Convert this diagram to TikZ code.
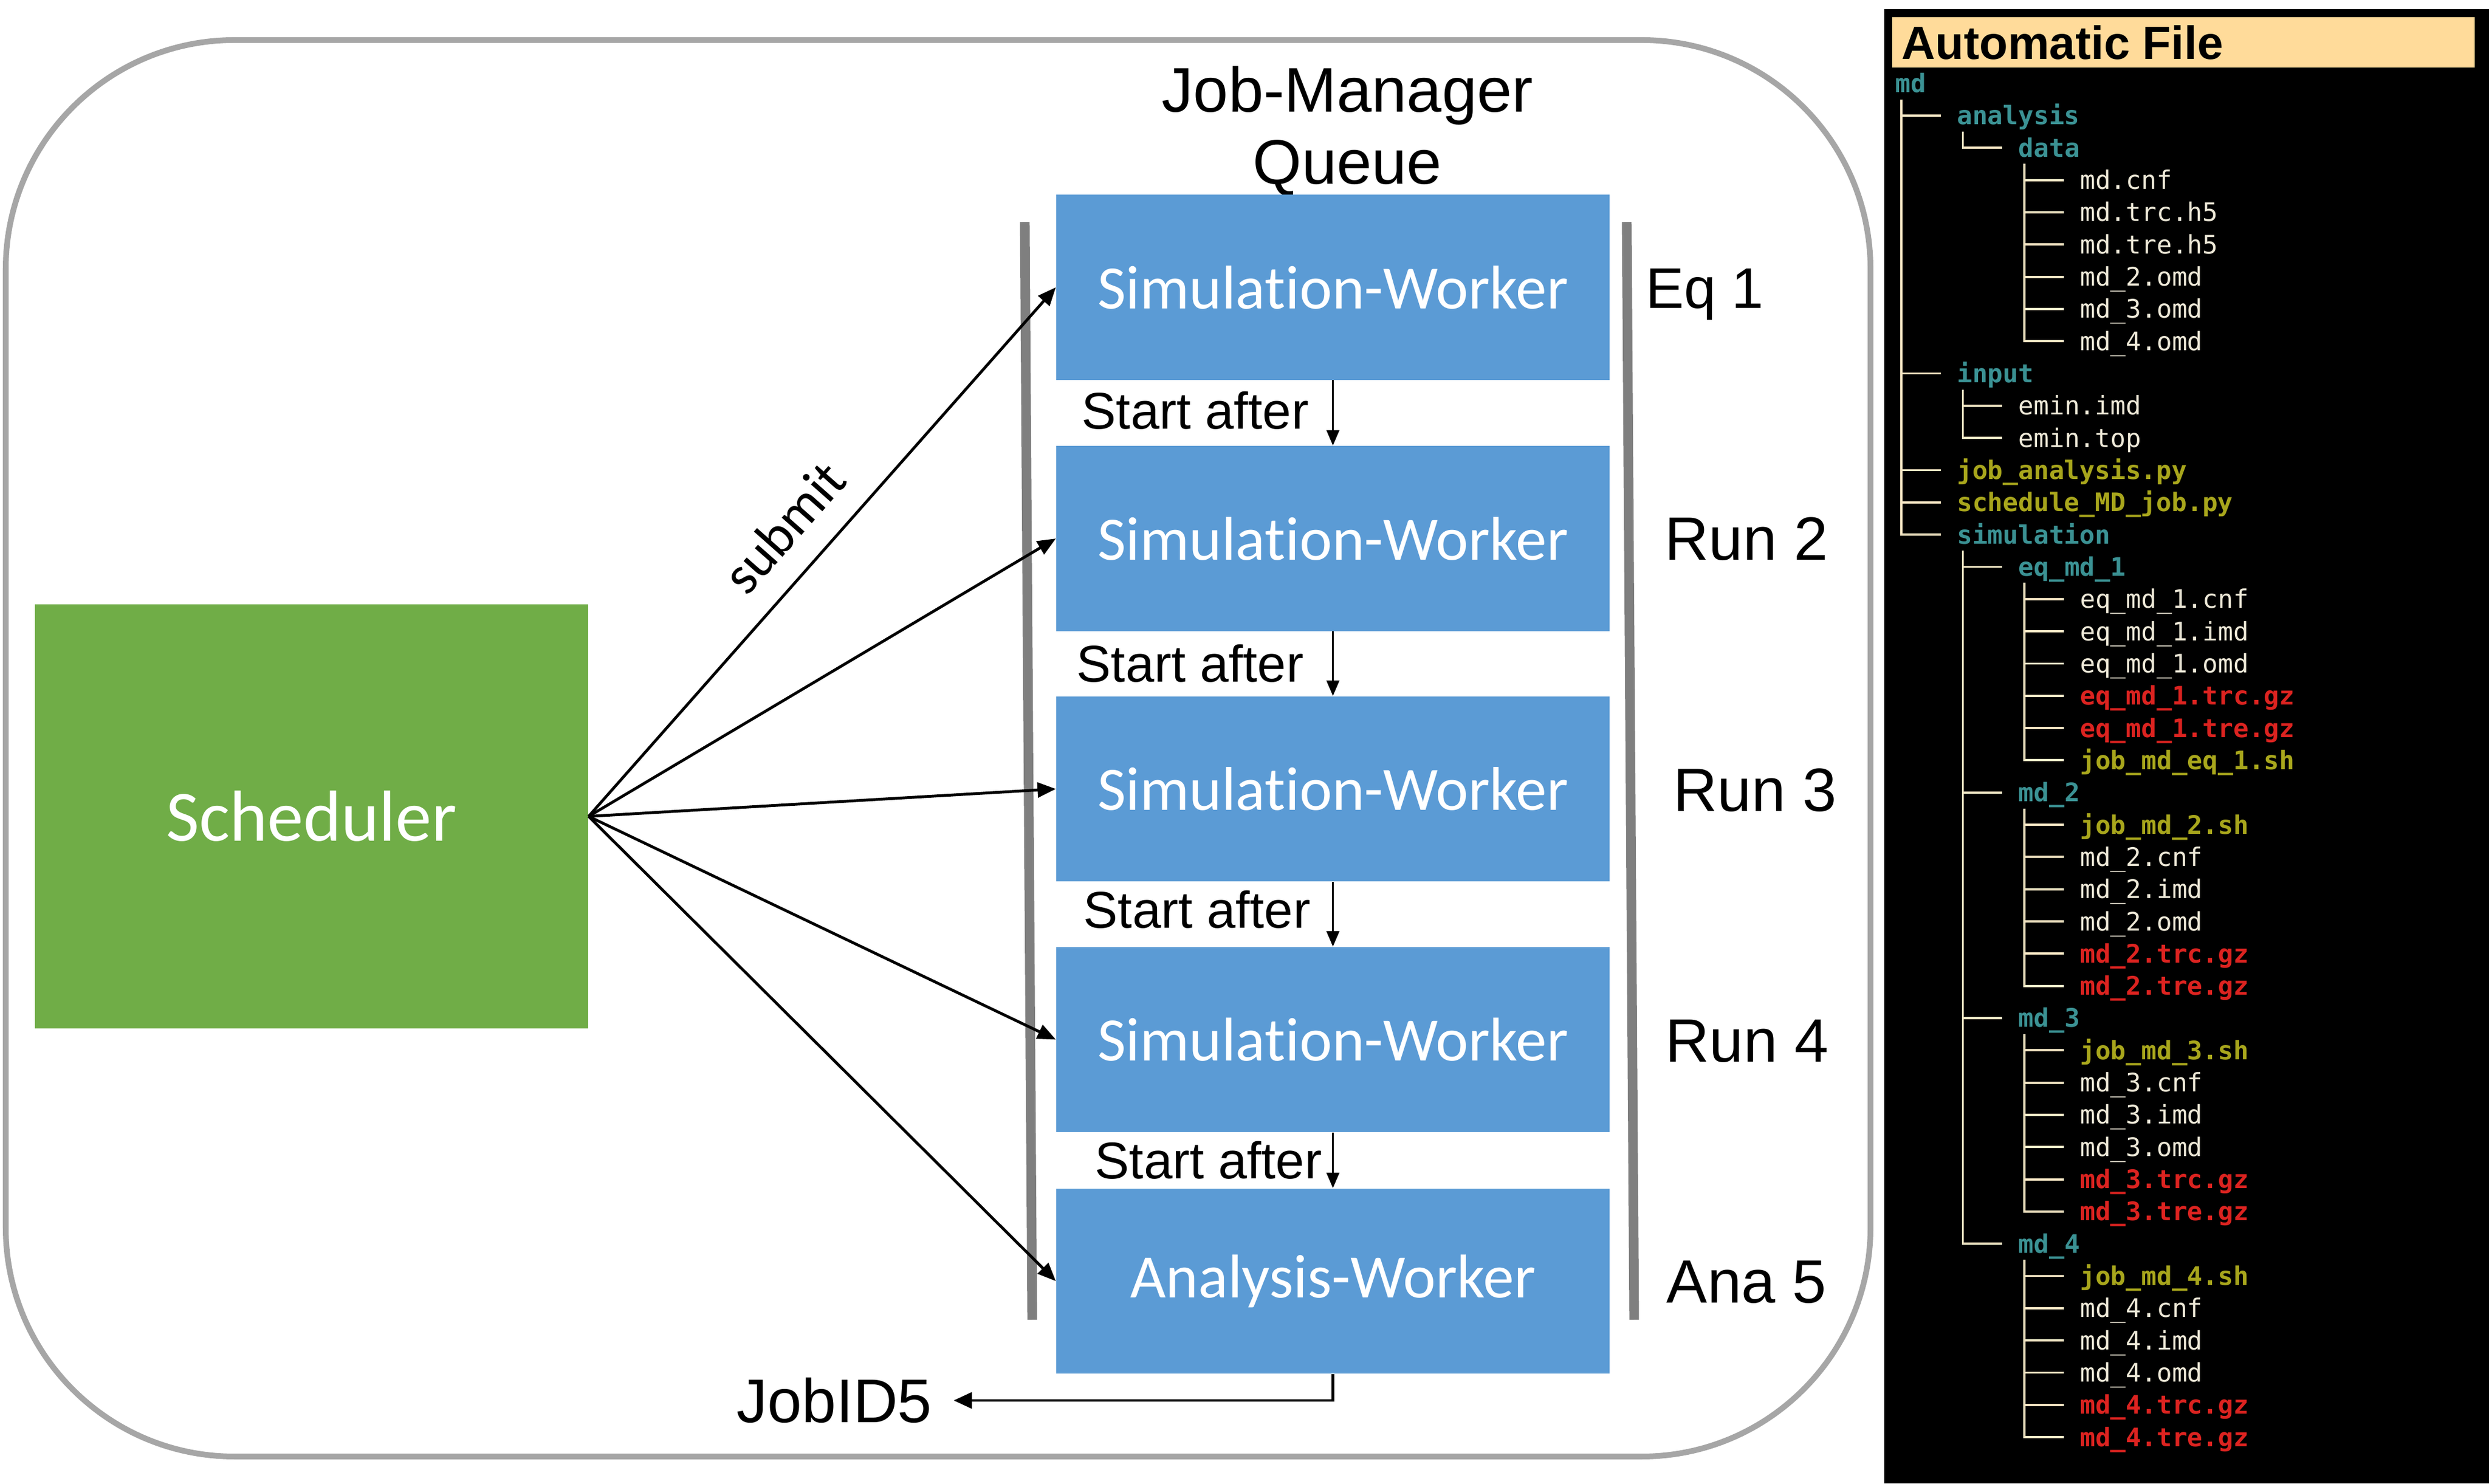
\documentclass[tikz,border=0pt]{standalone}
\usepackage{fontspec}
\setmainfont{Liberation Sans}
\newfontfamily\calibrifont[Ligatures=NoCommon]{Carlito}
\newfontfamily\treefont{DejaVu Sans Mono}
\usetikzlibrary{arrows.meta}

\definecolor{framegray}{HTML}{A6A6A6}
\definecolor{bargray}{HTML}{7F7F7F}
\definecolor{workerblue}{HTML}{5B9BD5}
\definecolor{schedgreen}{HTML}{70AD47}
\definecolor{headeryellow}{HTML}{FFDB9A}
\definecolor{treeline}{HTML}{F5E6C4}
\definecolor{tdir}{HTML}{3B9294}
\definecolor{texe}{HTML}{A8A61C}
\definecolor{tgz}{HTML}{DC2320}
\definecolor{tplain}{HTML}{EEE9D8}

\begin{document}
\begin{tikzpicture}[>={Triangle[length=0.32cm,width=0.26cm]},
    worker/.style={fill=workerblue, text=white, inner sep=0,
                   minimum width=9.67cm, minimum height=3.235cm,
                   font=\calibrifont\fontsize{30.7}{36}\selectfont},
    lbl/.style={inner sep=0, anchor=base west, font=\fontsize{30.4}{36}\selectfont},
    after/.style={inner sep=0, anchor=base west, font=\fontsize{25.7}{30}\selectfont},
    bar/.style={draw=bargray, line width=4.8pt},
    tree/.style={draw=treeline, line width=1.1pt},
    leaf/.style={inner sep=0, anchor=west, text height=0.42cm, text depth=0.10cm},
    fplain/.style={text=tplain, font=\treefont\fontsize{12.67}{15}\selectfont},
    fdir/.style={text=tdir, font=\treefont\bfseries\fontsize{12.67}{15}\selectfont},
    fexe/.style={text=texe, font=\treefont\bfseries\fontsize{12.67}{15}\selectfont},
    fgz/.style={text=tgz, font=\treefont\bfseries\fontsize{12.67}{15}\selectfont}]

  \useasboundingbox (0,0) rectangle (43.5,25.92);
  \fill[white] (0,0) rectangle (43.5,25.92);

  % queue frame
  \draw[framegray, line width=2.85pt, rounded corners=4cm] (0.10,0.47) rectangle (32.69,25.22);
  \draw[bar] (17.91,22.04) -- (18.04,2.86);
  \draw[bar] (28.43,22.04) -- (28.56,2.86);

  \node[align=center, font=\fontsize{31.3}{36}\selectfont] (title) at (23.55,23.63) {Job-Manager\\Queue};

  \node[fill=schedgreen, text=white, minimum width=9.67cm, minimum height=7.41cm,
        font=\calibrifont\fontsize{35.9}{42}\selectfont] (sched) at (5.445,11.655) {Scheduler};

  \node[worker] (w1) at (23.295,20.90) {Simulation-Worker};
  \node[worker] (w2) at (23.295,16.51) {Simulation-Worker};
  \node[worker] (w3) at (23.295,12.135) {Simulation-Worker};
  \node[worker] (w4) at (23.295,7.755) {Simulation-Worker};
  \node[worker] (w5) at (23.295,3.535) {Analysis-Worker};

  \node[lbl, font=\fontsize{28.5}{34}\selectfont] (l1) at (28.76,20.53) {Eq 1};
  \node[lbl] (l2) at (29.09,16.13) {Run 2};
  \node[lbl] (l3) at (29.24,11.74) {Run 3};
  \node[lbl] (l4) at (29.10,7.36) {Run 4};
  \node[lbl] (l5) at (29.12,3.15) {Ana 5};

  \node[after] (a1) at (18.90,18.42) {Start after};
  \node[after] (a2) at (18.81,14.00) {Start after};
  \node[after] (a3) at (18.93,9.70) {Start after};
  \node[after] (a4) at (19.13,5.32) {Start after};

  \node[inner xsep=0.37cm, inner ysep=0, font=\fontsize{30.7}{36}\selectfont] (jobid) at (14.58,1.45) {JobID5};

  % submit arrows
  \draw[->, line width=1.4pt] (sched.east) -- node[pos=0.49, above=0.31cm, sloped,
        font=\calibrifont\fontsize{27.3}{32}\selectfont] {submit} (w1.west);
  \foreach \w in {w2,w3,w4,w5}
    \draw[->, line width=1.4pt] (sched.east) -- (\w.west);

  \foreach \x/\y in {w1/w2, w2/w3, w3/w4, w4/w5}
    \draw[-{Triangle[length=0.27cm,width=0.22cm]}, line width=1.1pt] (\x.south) -- (\y.north);

  \draw[-{Triangle[length=0.32cm,width=0.28cm]}, line width=1.4pt] (w5.south) |- (jobid.east);

  % file tree
  \fill[black] (32.93,0) rectangle (43.5,25.76);
  \fill[headeryellow] (33.07,24.74) rectangle (43.25,25.62);
  \node[inner sep=0, anchor=base west, font=\bfseries\fontsize{23.2}{28}\selectfont] (head) at (33.23,24.88) {Automatic File};

  \foreach \i/\lev/\sty/\txt in {0/0/fdir/md, 1/1/fdir/analysis, 2/2/fdir/data,
      3/3/fplain/md.cnf, 4/3/fplain/md.trc.h5, 5/3/fplain/md.tre.h5,
      6/3/fplain/md\_2.omd, 7/3/fplain/md\_3.omd, 8/3/fplain/md\_4.omd,
      9/1/fdir/input, 10/2/fplain/emin.imd, 11/2/fplain/emin.top,
      12/1/fexe/job\_analysis.py, 13/1/fexe/schedule\_MD\_job.py, 14/1/fdir/simulation,
      15/2/fdir/eq\_md\_1, 16/3/fplain/eq\_md\_1.cnf, 17/3/fplain/eq\_md\_1.imd,
      18/3/fplain/eq\_md\_1.omd, 19/3/fgz/eq\_md\_1.trc.gz, 20/3/fgz/eq\_md\_1.tre.gz,
      21/3/fexe/job\_md\_eq\_1.sh,
      22/2/fdir/md\_2, 23/3/fexe/job\_md\_2.sh, 24/3/fplain/md\_2.cnf, 25/3/fplain/md\_2.imd,
      26/3/fplain/md\_2.omd, 27/3/fgz/md\_2.trc.gz, 28/3/fgz/md\_2.tre.gz,
      29/2/fdir/md\_3, 30/3/fexe/job\_md\_3.sh, 31/3/fplain/md\_3.cnf, 32/3/fplain/md\_3.imd,
      33/3/fplain/md\_3.omd, 34/3/fgz/md\_3.trc.gz, 35/3/fgz/md\_3.tre.gz,
      36/2/fdir/md\_4, 37/3/fexe/job\_md\_4.sh, 38/3/fplain/md\_4.cnf, 39/3/fplain/md\_4.imd,
      40/3/fplain/md\_4.omd, 41/3/fgz/md\_4.trc.gz, 42/3/fgz/md\_4.tre.gz}
    \node[leaf, \sty] (f\i) at ({33.12+1.075*\lev},{24.463-0.5632*\i}) {\txt};

  \foreach \i in {1,...,42}
    \draw[tree] ([xshift=-0.965cm]f\i.west) -- ([xshift=-0.28cm]f\i.west);
  \foreach \p/\l in {0/14, 1/2, 2/8, 9/11, 14/36, 15/21, 22/28, 29/35, 36/42}
    \draw[tree] ([shift={(0.11,-0.28)}]f\p.west) |- ([xshift=-0.28cm]f\l.west);
\end{tikzpicture}
\end{document}
